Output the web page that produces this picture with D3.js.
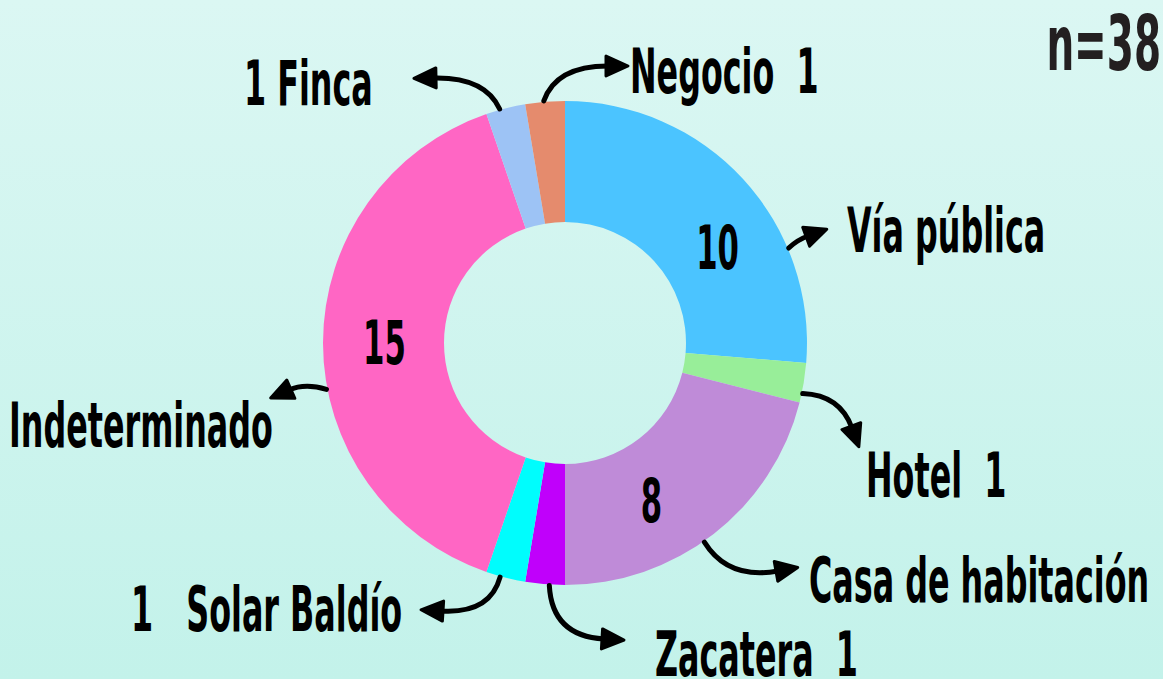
<!DOCTYPE html>
<meta charset="utf-8">
<head>
  <script src="https://d3js.org/d3.v7.min.js"></script>
  <style>
    html, body { margin: 0; padding: 0; }
    text {
      font-family: 'DejaVu Sans Condensed', 'Liberation Sans', sans-serif;
      font-weight: bold;
      font-stretch: condensed;
      fill: #000;
      white-space: pre;
    }
  </style>
</head>
<body>
<div id="my_dataviz"></div>

<script>

// data, clockwise from 12 o'clock
var categories = ["Vía pública", "Hotel", "Casa de habitación", "Zacatera", "Solar Baldío", "Indeterminado", "Finca", "Negocio"]
var counts     = [10, 1, 8, 1, 1, 15, 1, 1]
var colors     = ["#4bc4ff", "#98ee99", "#bf8bd8", "#c000fb", "#00fdfd", "#ff66c4", "#9dc3f5", "#e58b6d"]
var outerTexts = ["Vía pública", "Hotel  1", "Casa de habitación", "Zacatera  1", "1   Solar Baldío", "Indeterminado", "1 Finca", "Negocio  1"]
var insideTexts = ["10", "", "8", "", "", "15", "", ""]
var total = "n=38"

var width = 1163, height = 679
var cx = 565, cy = 343
var outerR = 242, innerR = 121
var sx = 0.57   // horizontal squeeze to get the condensed look

var svg = d3.select("#my_dataviz")
  .append("svg")
    .attr("width", width)
    .attr("height", height)

// background
var grad = svg.append("defs").append("linearGradient")
    .attr("id", "bg").attr("x1", 0).attr("y1", 0).attr("x2", 0).attr("y2", 1)
grad.append("stop").attr("offset", "0%").attr("stop-color", "#dbf7f3")
grad.append("stop").attr("offset", "100%").attr("stop-color", "#c3f2ea")
svg.append("rect").attr("width", width).attr("height", height).attr("fill", "url(#bg)")

// arrow head
svg.select("defs").append("marker")
    .attr("id", "head")
    .attr("viewBox", "-2 -12 26 24")
    .attr("markerUnits", "userSpaceOnUse")
    .attr("markerWidth", 26).attr("markerHeight", 24)
    .attr("refX", 2).attr("refY", 0)
    .attr("orient", "auto")
  .append("path")
    .attr("d", "M0,-10 L22,0 L0,10 Z")
    .attr("fill", "#000").attr("stroke", "#000")
    .attr("stroke-width", 3).attr("stroke-linejoin", "round")

var pie = d3.pie().sort(null).value(function(d) { return d })
var arcs = pie(counts)
var arc = d3.arc().innerRadius(innerR).outerRadius(outerR)

var g = svg.append("g").attr("transform", "translate(" + cx + "," + cy + ")")

g.selectAll("path.slice")
  .data(arcs)
  .enter()
  .append("path")
    .attr("class", "slice")
    .attr("d", arc)
    .attr("fill", function(d, i) { return colors[i] })

// numbers inside the ring (centroid + a nudge like the original)
var nudge = [[19, 27], [0, 0], [-25, 14], [0, 0], [0, 0], [1, -1], [0, 0], [0, 0]]
g.selectAll("text.inside")
  .data(arcs)
  .enter()
  .append("text")
    .attr("class", "inside")
    .attr("transform", function(d, i) {
      var c = arc.centroid(d)
      return "translate(" + (c[0] + nudge[i][0]) + "," + (c[1] + nudge[i][1] + 22) + ") scale(" + sx + ",1)"
    })
    .attr("text-anchor", "middle")
    .style("font-size", "60px")
    .text(function(d, i) { return insideTexts[i] })

// arrows: start on the ring edge (angle in degrees), control point, end point
var arrowStart = [67, 102, 145, 183.7, 195.5, 259, 344.4, 355]
var arrowCtrl  = [[797, 240], [840, 395], [728, 580], [552, 636], [490, 614], [305, 383], [485, 77], [556, 66]]
var arrowEnd   = [[808, 236], [852, 428], [778, 571], [604, 639], [441, 611], [289, 390], [434, 78], [608, 66]]

svg.append("g").selectAll("path")
  .data(arrowStart)
  .enter()
  .append("path")
    .attr("d", function(a, i) {
      var p = d3.pointRadial(a * Math.PI / 180, outerR + 1)
      return "M" + (cx + p[0]) + "," + (cy + p[1]) +
             " Q" + arrowCtrl[i][0] + "," + arrowCtrl[i][1] +
             " " + arrowEnd[i][0] + "," + arrowEnd[i][1]
    })
    .attr("fill", "none")
    .attr("stroke", "#000")
    .attr("stroke-width", 5)
    .attr("stroke-linecap", "round")
    .attr("marker-end", "url(#head)")

// outer labels (left edge x, baseline y)
var labelPos = [[847, 252], [866, 497], [809, 602], [655, 676], [131, 631], [9, 447], [244, 105], [630, 93]]
svg.append("g").selectAll("text")
  .data(outerTexts)
  .enter()
  .append("text")
    .attr("transform", function(d, i) {
      return "translate(" + labelPos[i][0] + "," + labelPos[i][1] + ") scale(" + sx + ",1)"
    })
    .style("font-size", "62px")
    .text(function(d) { return d })

svg.append("text")
    .attr("transform", "translate(1161,70) scale(" + sx + ",1)")
    .attr("text-anchor", "end")
    .style("font-size", "76px")
    .style("fill", "#231f20")
    .text(total)

</script>
</body>
